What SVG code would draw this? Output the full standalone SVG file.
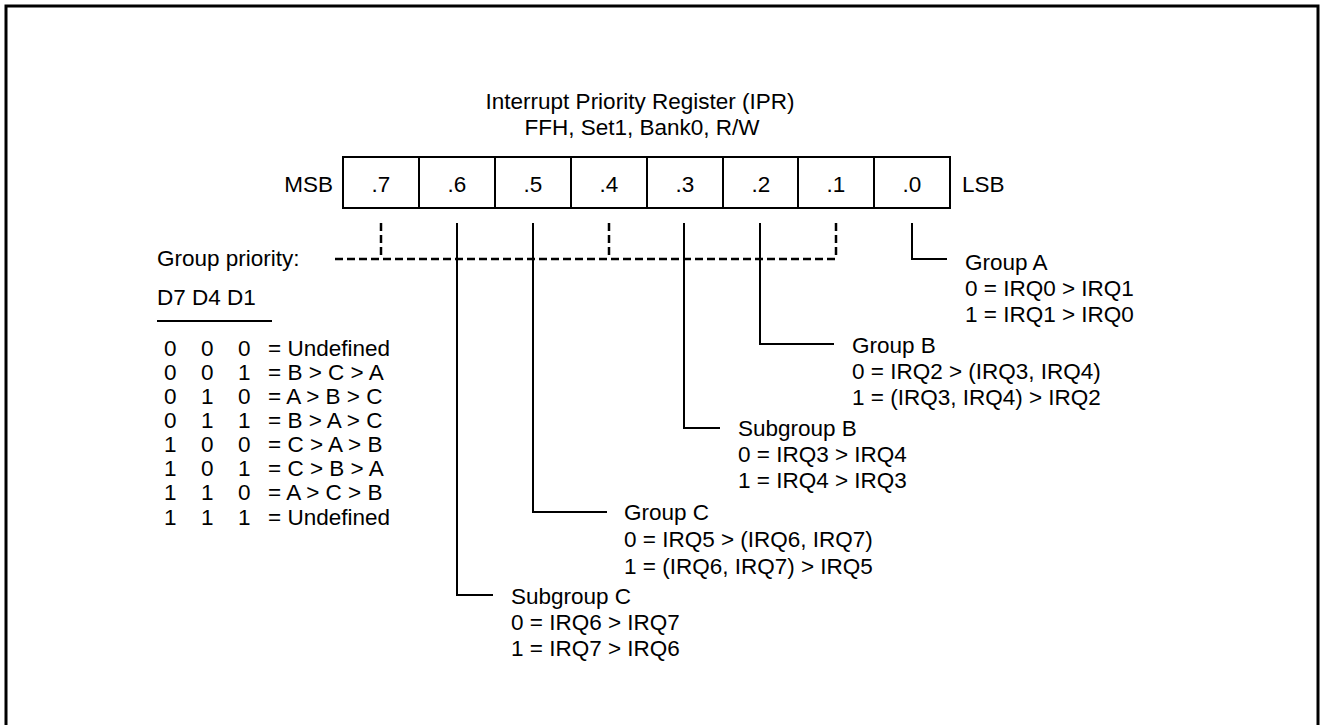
<svg xmlns="http://www.w3.org/2000/svg" width="1323" height="725" viewBox="0 0 1323 725">
<style>
text{font-family:"Liberation Sans",Arial,sans-serif;font-size:22.5px;fill:#000}
.c{text-anchor:middle}
.ln{fill:none;stroke:#000;stroke-width:2}
.ds{fill:none;stroke:#000;stroke-width:2.5;stroke-dasharray:8 4}
</style>
<rect x="0" y="0" width="1323" height="725" fill="#fff"/>
<rect id="frame" x="6" y="6" width="1312" height="730" fill="none" stroke="#000" stroke-width="3"/>
<g id="title">
<text class="c" x="640" y="109">Interrupt Priority Register (IPR)</text>
<text class="c" x="642" y="135">FFH, Set1, Bank0, R/W</text>
</g>
<g id="register">
<text x="333" y="192" text-anchor="end">MSB</text>
<rect class="ln" x="343" y="157" width="607" height="51"/>
<path class="ln" d="M419 157V208M495 157V208M571 157V208M647 157V208M723 157V208M798 157V208M874 157V208"/>
<text class="c" x="381" y="192">.7</text>
<text class="c" x="457" y="192">.6</text>
<text class="c" x="533" y="192">.5</text>
<text class="c" x="609" y="192">.4</text>
<text class="c" x="685" y="192">.3</text>
<text class="c" x="761" y="192">.2</text>
<text class="c" x="836" y="192">.1</text>
<text class="c" x="912" y="192">.0</text>
<text x="962" y="192">LSB</text>
</g>
<g id="connectors">
<path class="ds" d="M381 223V259M609 223V259M836 223V259M335 259H836"/>
<path class="ln" d="M912 223V259H947"/>
<path class="ln" d="M760 223V344H834"/>
<path class="ln" d="M684 223V428H720"/>
<path class="ln" d="M533 223V512H607"/>
<path class="ln" d="M457 223V595H493"/>
</g>
<g id="group-priority">
<text x="157" y="266">Group priority:</text>
<text x="157" y="305">D7 D4 D1</text>
<path class="ln" d="M157 321H272"/>
<g id="table">
<text y="356"><tspan x="164">0</tspan><tspan x="201">0</tspan><tspan x="238">0</tspan><tspan x="268">= Undefined</tspan></text>
<text y="380"><tspan x="164">0</tspan><tspan x="201">0</tspan><tspan x="238">1</tspan><tspan x="268">= B &gt; C &gt; A</tspan></text>
<text y="404"><tspan x="164">0</tspan><tspan x="201">1</tspan><tspan x="238">0</tspan><tspan x="268">= A &gt; B &gt; C</tspan></text>
<text y="428"><tspan x="164">0</tspan><tspan x="201">1</tspan><tspan x="238">1</tspan><tspan x="268">= B &gt; A &gt; C</tspan></text>
<text y="452"><tspan x="164">1</tspan><tspan x="201">0</tspan><tspan x="238">0</tspan><tspan x="268">= C &gt; A &gt; B</tspan></text>
<text y="476"><tspan x="164">1</tspan><tspan x="201">0</tspan><tspan x="238">1</tspan><tspan x="268">= C &gt; B &gt; A</tspan></text>
<text y="500"><tspan x="164">1</tspan><tspan x="201">1</tspan><tspan x="238">0</tspan><tspan x="268">= A &gt; C &gt; B</tspan></text>
<text y="525"><tspan x="164">1</tspan><tspan x="201">1</tspan><tspan x="238">1</tspan><tspan x="268">= Undefined</tspan></text>
</g>
</g>
<g id="group-a">
<text x="965" y="270">Group A</text>
<text x="965" y="296">0 = IRQ0 &gt; IRQ1</text>
<text x="965" y="322">1 = IRQ1 &gt; IRQ0</text>
</g>
<g id="group-b">
<text x="852" y="353">Group B</text>
<text x="852" y="379">0 = IRQ2 &gt; (IRQ3, IRQ4)</text>
<text x="852" y="405">1 = (IRQ3, IRQ4) &gt; IRQ2</text>
</g>
<g id="subgroup-b">
<text x="738" y="436">Subgroup B</text>
<text x="738" y="462">0 = IRQ3 &gt; IRQ4</text>
<text x="738" y="488">1 = IRQ4 &gt; IRQ3</text>
</g>
<g id="group-c">
<text x="624" y="520">Group C</text>
<text x="624" y="547">0 = IRQ5 &gt; (IRQ6, IRQ7)</text>
<text x="624" y="574">1 = (IRQ6, IRQ7) &gt; IRQ5</text>
</g>
<g id="subgroup-c">
<text x="511" y="604">Subgroup C</text>
<text x="511" y="630">0 = IRQ6 &gt; IRQ7</text>
<text x="511" y="656">1 = IRQ7 &gt; IRQ6</text>
</g>
</svg>
